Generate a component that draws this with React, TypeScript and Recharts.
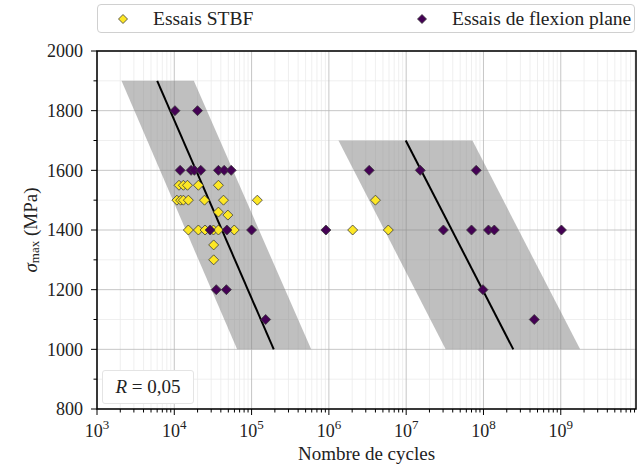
import {
  ComposedChart,
  Area,
  Line,
  Scatter,
  XAxis,
  YAxis,
  CartesianGrid,
  Legend,
  ReferenceArea,
} from "recharts"

const FONT = "'Liberation Serif', 'Times New Roman', serif"

// Essais STBF
const stbfCycles = [
  11500, 13100, 14800, 20500, 37200,
  10800, 12100, 13100, 15200, 24600, 43300, 118600, 4.0e6,
  37200, 49300,
  15200, 20500, 25000, 32100, 37200, 59600, 2.03e6, 5.87e6,
  32300, 32300,
]
const stbfStress = [
  1550, 1550, 1550, 1550, 1550,
  1500, 1500, 1500, 1500, 1500, 1500, 1500, 1500,
  1460, 1450,
  1400, 1400, 1400, 1400, 1400, 1400, 1400, 1400,
  1350, 1300,
]

// Essais de flexion plane
const flexCycles = [
  10200, 19950,
  11900, 16500, 18200, 22000, 37200, 44200, 54500, 3.32e6, 1.52e7, 8.05e7,
  29100, 47900, 100000, 9.15e5, 3.03e7, 7.0e7, 1.16e8, 1.38e8, 1.02e9,
  34900, 47200, 9.84e7,
  152000, 4.54e8,
]
const flexStress = [
  1800, 1800,
  1600, 1600, 1600, 1600, 1600, 1600, 1600, 1600, 1600, 1600,
  1400, 1400, 1400, 1400, 1400, 1400, 1400, 1400, 1400,
  1200, 1200, 1200,
  1100, 1100,
]

// scatter bands: [left, right] edge of each band at the top and bottom stress
const bandStress = [1900, 1000]
const bandLowEdges = [[2075, 17900], [65000, 590000]]
const bandHighStress = [1700, 1000]
const bandHighEdges = [[1.33e6, 7.2e7], [3.24e7, 1.78e9]]

// median curves
const fitLowCycles = [6010, 193600]
const fitHighCycles = [9.87e6, 2.43e8]

const series = [
  { name: "Essais STBF", color: "#FDE725" },
  { name: "Essais de flexion plane", color: "#440154" },
]

const decades = [3, 4, 5, 6, 7, 8, 9]
const minorSteps = [2, 3, 4, 5, 6, 7, 8, 9]
const xMax = 9.4e9
const xMajor = decades.map((d) => 10 ** d)
const xMinor = decades.flatMap((d) => minorSteps.map((m) => m * 10 ** d)).filter((v) => v < xMax)
const yMajor = [800, 1000, 1200, 1400, 1600, 1800, 2000]
const yMinor = [900, 1100, 1300, 1500, 1700, 1900]

const zip = (n: number[], s: number[]) => n.map((v, i) => ({ n: v, s: s[i] }))
const stbfData = zip(stbfCycles, stbfStress)
const flexData = zip(flexCycles, flexStress)
const bandLow = bandStress.map((s, i) => ({ s, n: bandLowEdges[i] }))
const bandHigh = bandHighStress.map((s, i) => ({ s, n: bandHighEdges[i] }))
const fitLow = zip(fitLowCycles, bandStress)
const fitHigh = zip(fitHighCycles, bandHighStress)

const diamond = (fill: string, r: number) => (props: any) => {
  const { cx, cy } = props
  if (cx == null || cy == null) return <g />
  return (
    <polygon
      points={`${cx},${cy - r} ${cx + r},${cy} ${cx},${cy + r} ${cx - r},${cy}`}
      fill={fill}
      stroke="#3a3a3a"
      strokeWidth={0.8}
    />
  )
}

const XTick = (props: any) => {
  const { x, y, payload } = props
  const isMajor = xMajor.includes(payload.value)
  const exp = Math.round(Math.log10(payload.value))
  return (
    <g>
      <line x1={x} x2={x} y1={y} y2={y + (isMajor ? 6 : 3.5)} stroke="#000" strokeWidth={1} />
      {isMajor && (
        <text x={x} y={y + 28} textAnchor="middle" fontFamily={FONT} fontSize={18} fill="#222">
          <tspan>10</tspan>
          <tspan dy={-8} fontSize={13}>{exp}</tspan>
        </text>
      )}
    </g>
  )
}

const YTick = (props: any) => {
  const { x, y, payload } = props
  const isMajor = yMajor.includes(payload.value)
  return (
    <g>
      <line x1={x} x2={x - (isMajor ? 6 : 3.5)} y1={y} y2={y} stroke="#000" strokeWidth={1} />
      {isMajor && (
        <text x={x - 14} y={y} dy="0.35em" textAnchor="end" fontFamily={FONT} fontSize={18} fill="#222">
          {payload.value}
        </text>
      )}
    </g>
  )
}

const YLabel = (props: any) => {
  const { viewBox } = props
  const cy = viewBox.y + viewBox.height / 2
  const cx = 30
  return (
    <text
      x={cx}
      y={cy}
      transform={`rotate(-90, ${cx}, ${cy})`}
      textAnchor="middle"
      dominantBaseline="central"
      fontFamily={FONT}
      fontSize={19}
      fill="#222"
    >
      <tspan fontStyle="italic">σ</tspan>
      <tspan fontSize={13} dy={4}>max</tspan>
      <tspan dy={-4}> (MPa)</tspan>
    </text>
  )
}

const XLabel = (props: any) => {
  const { viewBox } = props
  return (
    <text
      x={viewBox.x + viewBox.width / 2}
      y={viewBox.y + 51}
      textAnchor="middle"
      fontFamily={FONT}
      fontSize={19}
      fill="#222"
    >
      Nombre de cycles
    </text>
  )
}

const LegendBox = () => (
  <div style={{ height: 47 }}>
    <div
      style={{
        height: 29,
        boxSizing: "border-box",
        border: "1px solid #d0d0d0",
        borderRadius: 4,
        background: "#fff",
        position: "relative",
        fontFamily: FONT,
        fontSize: 19.5,
        color: "#222",
      }}
    >
      {series.map((s, i) => (
        <div
          key={s.name}
          style={{
            position: "absolute",
            left: i === 0 ? 19 : 318,
            top: 0,
            height: 27,
            display: "flex",
            alignItems: "center",
            whiteSpace: "nowrap",
          }}
        >
          <svg width={12} height={12} style={{ marginRight: 24 }}>
            <polygon points="6,1.5 10.5,6 6,10.5 1.5,6" fill={s.color} stroke="#3a3a3a" strokeWidth={0.8} />
          </svg>
          <span>{s.name}</span>
        </div>
      ))}
    </div>
  </div>
)

export default function App() {
  return (
    <div style={{ position: "relative", width: 642, height: 467, background: "#fff" }}>
      <style>{`body { margin: 0; }`}</style>
      <ComposedChart
        width={642}
        height={467}
        layout="vertical"
        margin={{ top: 4, right: 6, bottom: 0, left: 0 }}
      >
        <CartesianGrid
          stroke="#ebebeb"
          strokeWidth={0.8}
          verticalValues={xMinor}
          horizontalValues={yMinor}
        />
        <CartesianGrid
          stroke="#b8b8b8"
          strokeWidth={0.8}
          verticalValues={xMajor}
          horizontalValues={yMajor}
        />
        <XAxis
          type="number"
          dataKey="n"
          scale="log"
          domain={[1000, xMax]}
          allowDataOverflow
          ticks={[...xMajor, ...xMinor]}
          interval={0}
          height={58}
          tickSize={0}
          tickMargin={0}
          tickLine={false}
          axisLine={false}
          tick={<XTick />}
          label={<XLabel />}
        />
        <YAxis
          type="number"
          dataKey="s"
          domain={[800, 2000]}
          reversed
          allowDataOverflow
          ticks={[...yMajor, ...yMinor]}
          interval={0}
          width={97}
          tickSize={0}
          tickMargin={0}
          tickLine={false}
          axisLine={false}
          tick={<YTick />}
          label={<YLabel />}
        />
        <Legend
          verticalAlign="top"
          content={<LegendBox />}
          wrapperStyle={{ left: 97, width: 538, top: 4 }}
        />
        <Area
          data={bandLow}
          dataKey="n"
          type="linear"
          stroke="none"
          fill="#808080"
          fillOpacity={0.5}
          isAnimationActive={false}
          legendType="none"
        />
        <Area
          data={bandHigh}
          dataKey="n"
          type="linear"
          stroke="none"
          fill="#808080"
          fillOpacity={0.5}
          isAnimationActive={false}
          legendType="none"
        />
        <Line data={fitLow} dataKey="n" stroke="#000" strokeWidth={2} dot={false} isAnimationActive={false} legendType="none" />
        <Line data={fitHigh} dataKey="n" stroke="#000" strokeWidth={2} dot={false} isAnimationActive={false} legendType="none" />
        <Scatter data={stbfData} name={series[0].name} shape={diamond(series[0].color, 5)} isAnimationActive={false} />
        <Scatter data={flexData} name={series[1].name} shape={diamond(series[1].color, 5)} isAnimationActive={false} />
        <ReferenceArea
          x1={1000}
          x2={xMax}
          y1={800}
          y2={2000}
          fill="none"
          stroke="#000"
          strokeWidth={1.5}
          ifOverflow="visible"
        />
      </ComposedChart>
      <div
        style={{
          position: "absolute",
          left: 102,
          top: 370,
          width: 92,
          height: 34,
          boxSizing: "border-box",
          border: "1px solid #e4e4e4",
          borderRadius: 3,
          background: "#fff",
          fontFamily: FONT,
          fontSize: 19,
          color: "#222",
          display: "flex",
          alignItems: "center",
          justifyContent: "center",
        }}
      >
        <i>R</i>&nbsp;=&nbsp;0,05
      </div>
    </div>
  )
}
